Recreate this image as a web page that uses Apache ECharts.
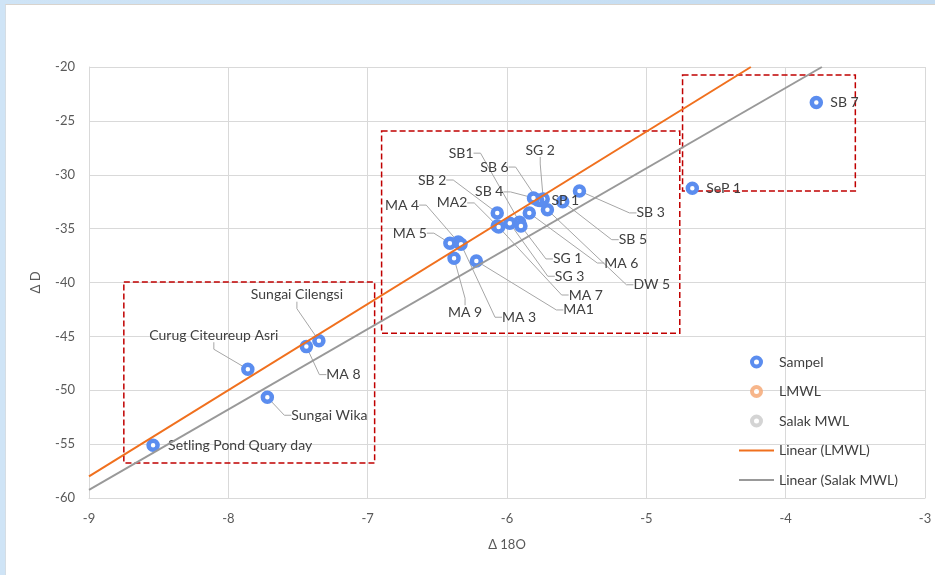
<!DOCTYPE html>
<html>
<head>
<meta charset="utf-8">
<script src="https://cdn.jsdelivr.net/npm/echarts@6/dist/echarts.min.js"></script>
<style>
  html, body { margin: 0; padding: 0; width: 935px; height: 575px; overflow: hidden;
    background: linear-gradient(90deg, #cfe4f6, #c3dcf2); }
  #sheet { position: absolute; left: 5px; top: 4px; right: 0; bottom: 0; background: #fff;
    border-left: 1px solid #d5dde4; border-top: 1px solid #d8d3cd; }
  #chart { position: absolute; left: 0; top: 0; width: 935px; height: 575px; }
</style>
</head>
<body>
<div id="sheet"></div>
<div id="chart"></div>
<script>
// Isotope samples: δ18O (x) and δD (y)
const sampleNames = [
  'SB 3', 'SB 5', 'SP 1', 'SG 2', 'SB 6', 'SB 4', 'SB1', 'SB 2', 'MA2', 'MA 4',
  'MA 5', 'MA 9', 'MA 3', 'MA1', 'MA 7', 'SG 3', 'SG 1', 'MA 6', 'DW 5',
  'Sungai Cilengsi', 'Curug Citeureup Asri', 'MA 8', 'Sungai Wika',
  'Setling Pond Quary day', 'SB 7', 'SeP 1'
];
const sampleD18O = [
  -5.48, -5.60, -5.76, -5.74, -5.78, -5.81, -5.91, -6.07, -6.07, -6.35,
  -6.41, -6.38, -6.33, -6.22, -6.06, -5.98, -5.90, -5.84, -5.71,
  -7.35, -7.86, -7.44, -7.72,
  -8.54, -3.78, -4.67
];
const sampleDD = [
  -31.5, -32.5, -32.4, -32.25, -32.35, -32.15, -34.4, -33.55, -34.75, -36.25,
  -36.35, -37.75, -36.45, -38.0, -34.85, -34.5, -34.75, -33.55, -33.25,
  -45.4, -48.05, -45.95, -50.65,
  -55.1, -23.3, -31.25
];

// Meteoric water lines (end points of the fitted trend lines)
const lmwlTrend = [[-9, -58.0], [-4.25, -20]];
const salakTrend = [[-9, -59.25], [-3.74, -20]];

// Sample groups outlined with dashed boxes: [x1, y1, x2, y2]
const groupBoxes = [
  [-8.75, -39.95, -6.95, -56.75],
  [-6.90, -25.95, -4.76, -44.7],
  [-4.74, -20.75, -3.50, -31.5]
];

// Axis ranges
const xMin = -9, xMax = -3, xStep = 1;
const yMin = -60, yMax = -20, yStep = 5;

// Label placement relative to the marker centre: [dx, dy, align]
const labelOffsets = {
  'SB 3': [57, 22, 'left'], 'SB 5': [56, 38, 'left'], 'SP 1': [11, 0, 'left'],
  'SG 2': [-3, -49, 'center'], 'SB 6': [-29, -33, 'right'], 'SB 4': [-30, -6, 'right'],
  'SB1': [-46, -69, 'right'], 'SB 2': [-51, -33, 'right'], 'MA2': [-30, -23, 'right'],
  'MA 4': [-39, -37, 'right'], 'MA 5': [-23, -10, 'right'], 'MA 9': [11, 54, 'center'],
  'MA 3': [41, 73, 'left'], 'MA1': [87, 49, 'left'], 'MA 7': [70, 68, 'left'],
  'SG 3': [45, 53, 'left'], 'SG 1': [32, 33, 'left'], 'MA 6': [75, 50, 'left'],
  'DW 5': [86, 75, 'left'],
  'Sungai Cilengsi': [-22, -46, 'center'], 'Curug Citeureup Asri': [-34, -34, 'center'],
  'MA 8': [20, 28, 'left'], 'Sungai Wika': [24, 18, 'left'],
  'Setling Pond Quary day': [15, 0, 'left'], 'SB 7': [14, 0, 'left'], 'SeP 1': [14, 0, 'left']
};
const noLeader = new Set(['SP 1', 'Setling Pond Quary day', 'SB 7', 'SeP 1']);

const FONT = 'Lato, "Open Sans", sans-serif';
const TEXT = '#404040';
const GRID = '#d9d9d9';
const BLUE = '#5B8DEF';
const ORANGE = '#F0701E';
const GREY = '#999999';

const sampleData = sampleNames.map((n, i) => ({
  name: n,
  value: [sampleD18O[i], sampleDD[i]],
  labelLine: { show: !noLeader.has(n) }
}));

const boxAreas = groupBoxes.map(b => [{ coord: [b[0], b[1]] }, { coord: [b[2], b[3]] }]);

const chart = echarts.init(document.getElementById('chart'), null, { renderer: 'canvas' });
chart.setOption({
  animation: false,
  textStyle: { fontFamily: FONT },
  grid: { left: 89, right: 10, top: 67, bottom: 77 },
  legend: {
    orient: 'vertical', left: 733, top: 349,
    itemWidth: 35, itemHeight: 9, itemGap: 13.5,
    selectedMode: false,
    textStyle: { fontFamily: FONT, fontSize: 14, color: TEXT, lineHeight: 16 },
    data: [
      { name: 'Sampel', icon: 'circle', itemStyle: { color: '#fff', borderColor: BLUE, borderWidth: 4 } },
      { name: 'LMWL', icon: 'circle', itemStyle: { color: '#fff', borderColor: '#F5A46E', borderWidth: 4 } },
      { name: 'Salak MWL', icon: 'circle', itemStyle: { color: '#fff', borderColor: '#C9C9C9', borderWidth: 4 } },
      { name: 'Linear (LMWL)', itemStyle: { opacity: 0 }, lineStyle: { color: ORANGE, width: 2 } },
      { name: 'Linear (Salak MWL)', itemStyle: { opacity: 0 }, lineStyle: { color: GREY, width: 2 } }
    ]
  },
  xAxis: {
    type: 'value', min: xMin, max: xMax, interval: xStep,
    name: 'Δ 18O', nameLocation: 'middle', nameGap: 40,
    nameTextStyle: { color: '#595959', fontSize: 13, fontFamily: FONT },
    axisLine: { show: true, onZero: false, lineStyle: { color: GRID, width: 1 } },
    axisTick: { show: false },
    axisLabel: { color: '#595959', fontSize: 13, margin: 14, fontFamily: FONT },
    splitLine: { show: true, lineStyle: { color: GRID, width: 1 } }
  },
  yAxis: {
    type: 'value', min: yMin, max: yMax, interval: yStep,
    name: 'Δ D', nameLocation: 'middle', nameGap: 47, nameRotate: 90,
    nameTextStyle: { color: '#595959', fontSize: 13, fontFamily: FONT },
    axisLine: { show: true, onZero: false, lineStyle: { color: GRID, width: 1 } },
    axisTick: { show: false },
    axisLabel: { color: '#595959', fontSize: 13, margin: 14, fontFamily: FONT },
    splitLine: { show: true, lineStyle: { color: GRID, width: 1 } }
  },
  series: [
    {
      name: 'Sampel', type: 'scatter', z: 2,
      symbol: 'circle', symbolSize: 9,
      itemStyle: { color: '#fff', borderColor: BLUE, borderWidth: 4.5, opacity: 1 },
      emphasis: { disabled: true },
      data: sampleData,
      label: {
        show: true, formatter: p => p.name,
        color: TEXT, fontSize: 14, fontFamily: FONT
      },
      labelLine: { show: true, length2: 7, lineStyle: { color: '#a6a6a6', width: 1 } },
      labelLayout: function (p) {
        const o = labelOffsets[sampleNames[p.dataIndex]];
        const cx = p.rect.x + p.rect.width / 2;
        const cy = p.rect.y + p.rect.height / 2;
        return { x: cx + o[0], y: cy + o[1], align: o[2], verticalAlign: 'middle' };
      },
      markArea: {
        silent: true,
        label: { show: false },
        itemStyle: { color: 'rgba(0,0,0,0)', borderColor: '#C00000', borderWidth: 1.5, borderType: [6, 3] },
        data: boxAreas
      }
    },
    {
      name: 'LMWL', type: 'scatter', symbol: 'circle', symbolSize: 9,
      itemStyle: { color: '#fff', borderColor: '#F5A46E', borderWidth: 4.5 },
      data: []
    },
    {
      name: 'Salak MWL', type: 'scatter', symbol: 'circle', symbolSize: 9,
      itemStyle: { color: '#fff', borderColor: '#C9C9C9', borderWidth: 4.5 },
      data: []
    },
    {
      name: 'Linear (LMWL)', type: 'line', z: 3, silent: true,
      symbol: 'none', showSymbol: false,
      lineStyle: { color: ORANGE, width: 2 },
      itemStyle: { color: ORANGE },
      data: lmwlTrend
    },
    {
      name: 'Linear (Salak MWL)', type: 'line', z: 3, silent: true,
      symbol: 'none', showSymbol: false,
      lineStyle: { color: GREY, width: 2 },
      itemStyle: { color: GREY },
      data: salakTrend
    }
  ]
});
</script>
</body>
</html>
